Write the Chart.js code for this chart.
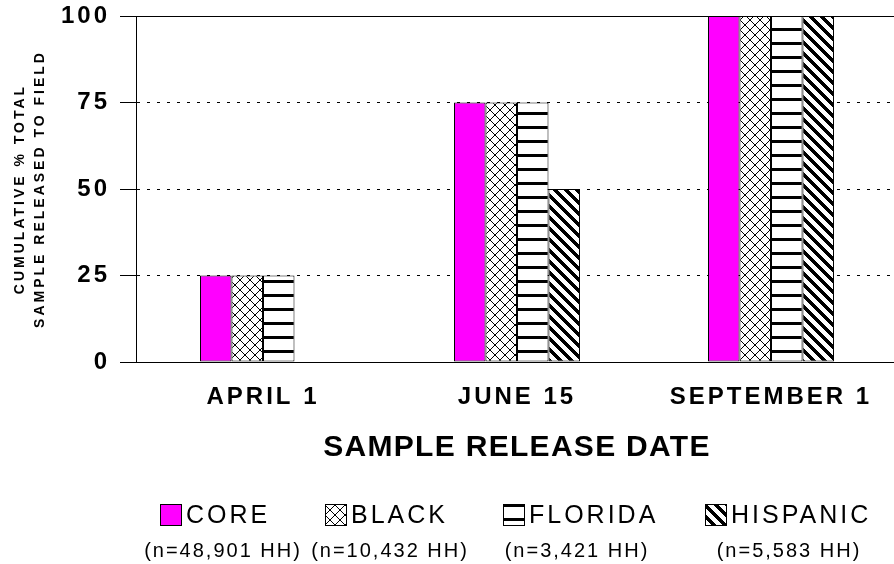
<!DOCTYPE html>
<html><head><meta charset="utf-8">
<script src="https://cdn.jsdelivr.net/npm/chart.js@4.4.1/dist/chart.umd.min.js"></script>
<style>
html,body{margin:0;padding:0;background:#fff;overflow:hidden;width:894px;height:564px}
#wrap{position:relative;width:900px;height:564px}
canvas{display:block}
</style></head>
<body><div id="wrap"><canvas id="c" width="900" height="564"></canvas></div>
<script>
// ---- data ----
const categories = ['APRIL 1', 'JUNE 15', 'SEPTEMBER 1'];
const coreValues = [25, 75, 100];
const blackValues = [25, 75, 100];
const floridaValues = [25, 75, 100];
const hispanicValues = [0, 50, 100];
const seriesNames = ['CORE', 'BLACK', 'FLORIDA', 'HISPANIC'];
const sampleSizes = ['(n=48,901 HH)', '(n=10,432 HH)', '(n=3,421 HH)', '(n=5,583 HH)'];
const yTickStep = 25;
const yMin = 0, yMax = 100;
const xTitle = 'SAMPLE RELEASE DATE';
const yTitle = ['CUMULATIVE % TOTAL', 'SAMPLE RELEASED TO FIELD'];

// ---- styling helpers ----
const FAMILY = "'Liberation Sans', Arial, Helvetica, sans-serif";
const canvas = document.getElementById('c');
const mainCtx = canvas.getContext('2d');

// letter spacing by font size (mimics the wide bitmap text of the original)
const LS = {24: '3px', 30: '1.3px', 14: '3px', 25: '3px', 20: '2px'};
function lsFor(font) {
  const m = /(\d+(?:\.\d+)?)px/.exec(font || '');
  return (m && LS[+m[1]]) || '0px';
}
const protoFill = CanvasRenderingContext2D.prototype.fillText;
const protoMeasure = CanvasRenderingContext2D.prototype.measureText;
mainCtx.fillText = function (t, x, y, mw) {
  this.letterSpacing = lsFor(this.font);
  return mw === undefined ? protoFill.call(this, t, x, y) : protoFill.call(this, t, x, y, mw);
};
mainCtx.measureText = function (t) {
  this.letterSpacing = lsFor(this.font);
  return protoMeasure.call(this, t);
};

function tile(w, h, fn) {
  const c = document.createElement('canvas');
  c.width = w; c.height = h;
  const x = c.getContext('2d');
  x.fillStyle = '#fff'; x.fillRect(0, 0, w, h);
  x.fillStyle = '#000';
  for (let j = 0; j < h; j++) for (let i = 0; i < w; i++) if (fn(i, j)) x.fillRect(i, j, 1, 1);
  return c;
}
const crossPat = mainCtx.createPattern(tile(10, 10, (i, j) => i === j || i === 9 - j), 'repeat');
const horizPat = mainCtx.createPattern(tile(4, 14, (i, j) => j < 3), 'repeat');
const diagPat = mainCtx.createPattern(tile(11, 11, (i, j) => (((i - j) % 11) + 11) % 11 < 5), 'repeat');
const fills = ['#ff00ff', crossPat, horizPat, diagPat];

// ---- custom legend (icons + names + sample sizes) ----
const legendPlugin = {
  id: 'customLegend',
  afterDraw(chart) {
    const ctx = chart.ctx;
    const iconX = [160, 325, 503, 705];
    const iconY = 504, iconW = 22, iconH = 22;
    const countX = [223, 390, 577, 789];
    ctx.save();
    chart.data.datasets.forEach((ds, i) => {
      ctx.fillStyle = ds.backgroundColor;
      ctx.fillRect(iconX[i], iconY, iconW, iconH);
      ctx.strokeStyle = '#000';
      ctx.lineWidth = 1;
      ctx.strokeRect(iconX[i] + 0.5, iconY + 0.5, iconW - 1, iconH - 1);
      ctx.fillStyle = '#000';
      ctx.font = '25px ' + FAMILY;
      ctx.textAlign = 'left';
      ctx.textBaseline = 'middle';
      ctx.fillText(ds.label, iconX[i] + iconW + 4, iconY + iconH / 2 + 1);
      ctx.font = '20px ' + FAMILY;
      ctx.textAlign = 'center';
      ctx.fillText(sampleSizes[i], countX[i], 551);
    });
    ctx.restore();
  }
};

const xTickFont = {family: FAMILY, size: 24, weight: 'bold'};
const yTickFont = {family: FAMILY, size: 24, weight: 'bold', lineHeight: 0.5};

new Chart(canvas, {
  type: 'bar',
  data: {
    labels: categories,
    datasets: [
      {label: seriesNames[0], data: coreValues, backgroundColor: fills[0]},
      {label: seriesNames[1], data: blackValues, backgroundColor: fills[1]},
      {label: seriesNames[2], data: floridaValues, backgroundColor: fills[2]},
      {label: seriesNames[3], data: hispanicValues, backgroundColor: fills[3]}
    ]
  },
  options: {
    responsive: false,
    animation: false,
    devicePixelRatio: 1,
    layout: {padding: {top: 16, right: 2, left: 0, bottom: 0}},
    datasets: {bar: {borderColor: '#000', borderWidth: 1, categoryPercentage: 0.496, barPercentage: 1, borderSkipped: false}},
    plugins: {legend: {display: false}, tooltip: {enabled: false}},
    scales: {
      x: {
        position: 'bottom',
        grid: {display: false, drawTicks: false},
        border: {display: true, color: '#000', width: 1},
        ticks: {color: '#000', font: xTickFont, padding: 21, maxRotation: 0, autoSkip: false},
        title: {display: true, text: xTitle, color: '#000',
                font: {family: FAMILY, size: 30, weight: 'bold', lineHeight: 1.2},
                padding: {top: 0, bottom: 98}},
        afterFit: s => { s.height = 202; }
      },
      xTop: {
        axis: 'x', type: 'category', position: 'top',
        grid: {display: false, drawTicks: false},
        ticks: {display: false},
        border: {display: true, color: '#000', width: 1},
        afterFit: s => { s.height = 0; }
      },
      y: {
        min: yMin, max: yMax,
        ticks: {stepSize: yTickStep, color: '#000', font: yTickFont, padding: 10},
        grid: {color: '#000', lineWidth: 1, tickLength: 16, drawTicks: true, borderDash: [3, 7]},
        border: {display: true, color: '#000', width: 1, dash: [3, 7]},
        title: {display: true, text: yTitle, color: '#000',
                font: {family: FAMILY, size: 14, weight: 'bold', lineHeight: '20px'},
                padding: {top: 10, bottom: 0}},
        afterFit: s => { s.width = 136; }
      }
    }
  },
  plugins: [legendPlugin]
});
</script>
</body></html>
